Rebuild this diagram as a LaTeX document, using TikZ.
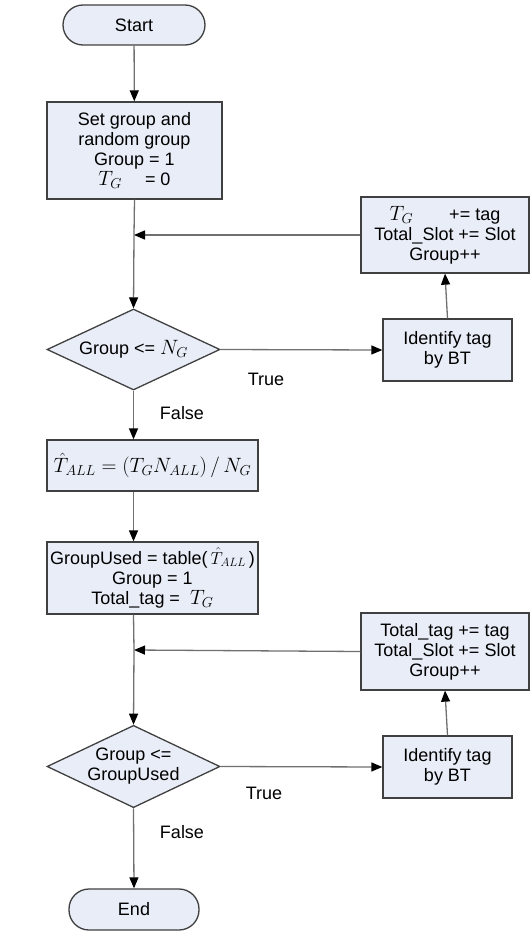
\documentclass[tikz,border=0pt]{standalone}
\usepackage{fontspec}
\setmainfont{Liberation Sans}
\usetikzlibrary{shapes.geometric,arrows.meta}
\definecolor{boxfill}{HTML}{E8EDF7}
\definecolor{boxline}{HTML}{404040}
\definecolor{conn}{HTML}{707070}
\newcommand{\mymath}[1]{{\fontsize{21}{20}\selectfont $#1$}}
\begin{document}
\begin{tikzpicture}[x=1pt,y=-1pt,
  font=\fontsize{18}{20}\selectfont,
  base/.style={draw=boxline,line width=1.3pt,fill=boxfill,align=center,inner sep=0pt},
  term/.style={base,rounded corners=20pt},
  procbox/.style={base},
  decide/.style={base,shape=diamond,aspect=2},
  conn/.style={draw=conn,line width=1.3pt},
  arr/.style={conn,-{Triangle[length=11pt,width=9pt,color=black]}},
  lbl/.style={inner sep=0pt}]
\useasboundingbox (0,0) rectangle (530,934);

\node[term,minimum width=142pt,minimum height=40pt] (start) at (134,25) {Start};
\node[procbox,minimum width=175pt,minimum height=97pt] (b1) at (134.5,150.5)
  {Set group and\\random group\\Group = 1\\\mymath{T_G}\quad\ = 0};
\coordinate (fb1) at (134,235);
\node[procbox,minimum width=168pt,minimum height=76pt] (b2) at (445,235)
  {\mymath{T_G}\qquad += tag\\Total\_Slot += Slot\\Group++};
\node[decide,minimum width=173pt,minimum height=81pt] (d1) at (133.5,349.5)
  {Group <= \mymath{N_G}};
\node[procbox,minimum width=129pt,minimum height=62pt] (id1) at (447.5,350)
  {Identify tag\\by BT};
\node[lbl] (t1) at (266,379) {True};
\node[lbl] (f1) at (182,413) {False};
\node[procbox,minimum width=211pt,minimum height=51pt] (b3) at (152.5,465.5)
  {\mymath{\hat{T}_{ALL} = \left(T_G N_{ALL}\right) / \, N_G}};
\node[procbox,minimum width=211pt,minimum height=72pt] (b4) at (152.5,578)
  {GroupUsed = table(\,$\hat{T}_{ALL}$\,)\\Group = 1\\Total\_tag = \ \mymath{T_G}};
\coordinate (fb2) at (134,650);
\node[procbox,minimum width=168pt,minimum height=77pt] (b5) at (445,651.5)
  {Total\_tag += tag\\Total\_Slot += Slot\\Group++};
\node[decide,minimum width=173pt,minimum height=81pt] (d2) at (133.5,766.5)
  {Group <=\\GroupUsed};
\node[procbox,minimum width=129pt,minimum height=62pt] (id2) at (447.5,767)
  {Identify tag\\by BT};
\node[lbl] (t2) at (264,793) {True};
\node[lbl] (f2) at (182,832) {False};
\node[term,minimum width=130pt,minimum height=41pt] (end) at (134,909.5) {End};

\draw[arr] (start) -- (b1);
\draw[conn] (b1.south) -- (fb1);
\draw[arr] (b2.west) -- (fb1);
\draw[arr] (fb1) -- (d1.north);
\draw[arr] (d1.east) -- (id1.west);
\draw[arr] (id1.north) -- (b2.south);
\draw[arr] (d1.south) -- (d1.south |- b3.north);
\draw[arr] (d1.south |- b3.south) -- (d1.south |- b4.north);
\draw[conn] (d1.south |- b4.south) -- (fb2);
\draw[arr] (b5.west) -- (fb2);
\draw[arr] (fb2) -- (d2.north);
\draw[arr] (d2.east) -- (id2.west);
\draw[arr] (id2.north) -- (b5.south);
\draw[arr] (d2.south) -- (end.north);
\end{tikzpicture}
\end{document}
